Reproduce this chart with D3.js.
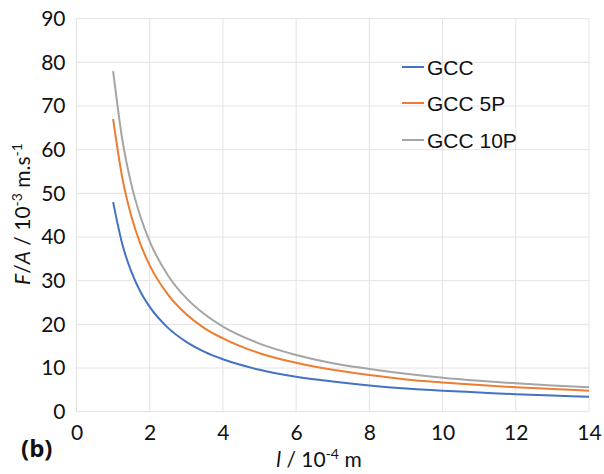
<!DOCTYPE html>
<html><head><meta charset="utf-8">
<script src="https://cdn.jsdelivr.net/npm/d3@7"></script>
<style>body{margin:0;background:#fff;} svg{display:block;}</style>
</head><body>
<script>
const xValues = [1, 1.25, 1.5, 1.75, 2, 2.5, 3, 3.5, 4, 5, 6, 7, 8, 9, 10, 11, 12, 13, 14];
const gcc     = [48, 38.4, 32, 27.4, 24, 19.2, 16, 13.7, 12, 9.6, 8, 6.9, 6, 5.3, 4.8, 4.4, 4.0, 3.7, 3.4];
const gcc5p   = [67, 53.6, 44.7, 38.3, 33.5, 26.8, 22.3, 19.1, 16.8, 13.4, 11.2, 9.6, 8.4, 7.4, 6.7, 6.1, 5.6, 5.2, 4.8];
const gcc10p  = [78, 62.4, 52, 44.6, 39, 31.2, 26, 22.3, 19.5, 15.6, 13, 11.1, 9.8, 8.7, 7.8, 7.1, 6.5, 6.0, 5.6];
const seriesNames = ["GCC", "GCC 5P", "GCC 10P"];
const xTicks = [0, 2, 4, 6, 8, 10, 12, 14];
const yTicks = [0, 10, 20, 30, 40, 50, 60, 70, 80, 90];

const colors = ["#4472C4", "#ED7D31", "#A5A5A5"];
const W = 604, H = 474;
const svg = d3.select("body").append("svg").attr("width", W).attr("height", H);

const x = d3.scaleLinear().domain([0, 14]).range([76.5, 589]);
const y = d3.scaleLinear().domain([0, 90]).range([411.7, 18.7]);

// gridlines
const g = svg.append("g");
g.selectAll("line.vx").data(xTicks).join("line")
  .attr("x1", d => x(d)).attr("x2", d => x(d))
  .attr("y1", y(0)).attr("y2", y(90))
  .attr("stroke", "#e3e3e3").attr("stroke-width", 1);
g.selectAll("line.hy").data(yTicks).join("line")
  .attr("x1", x(0)).attr("x2", x(14))
  .attr("y1", d => y(d)).attr("y2", d => y(d))
  .attr("stroke", "#e3e3e3").attr("stroke-width", 1);

// axes tick labels via d3 axes
const tickFont = "Lato, 'Open Sans', sans-serif";
const yAxis = svg.append("g").attr("transform", `translate(${x(0)},0)`)
  .call(d3.axisLeft(y).tickValues(yTicks).tickSize(0).tickPadding(11));
yAxis.select(".domain").remove();
yAxis.selectAll("text").attr("font-family", tickFont).attr("font-size", 21).attr("fill", "#111");

const xAxis = svg.append("g").attr("transform", `translate(0,${y(0)})`)
  .call(d3.axisBottom(x).tickValues(xTicks).tickSize(0).tickPadding(13));
xAxis.select(".domain").remove();
xAxis.selectAll("text").attr("font-family", tickFont).attr("font-size", 21).attr("fill", "#111");

// lines
const allSeries = [gcc, gcc5p, gcc10p];
const line = d3.line().x((d, i) => x(xValues[i])).y(d => y(d)).curve(d3.curveMonotoneX);
svg.selectAll("path.series").data(allSeries).join("path")
  .attr("d", d => line(d))
  .attr("fill", "none")
  .attr("stroke", (d, i) => colors[i])
  .attr("stroke-width", 2);

// legend
const legY = [67, 103, 140];
const leg = svg.append("g");
seriesNames.forEach((n, i) => {
  leg.append("line").attr("x1", 402).attr("x2", 424).attr("y1", legY[i]).attr("y2", legY[i])
    .attr("stroke", colors[i]).attr("stroke-width", 2);
  leg.append("text").attr("x", 427).attr("y", legY[i]).attr("dy", "0.36em")
    .attr("font-family", "'Liberation Sans', Arial, sans-serif").attr("font-size", 21)
    .attr("fill", "#111").text(n);
});

// y-axis title
const yt = svg.append("text")
  .attr("transform", "translate(30,214) rotate(-90)")
  .attr("text-anchor", "middle")
  .attr("font-family", tickFont).attr("font-size", 21).attr("fill", "#111");
yt.append("tspan").attr("font-style", "italic").text("F");
yt.append("tspan").text("/");
yt.append("tspan").attr("font-style", "italic").text("A");
yt.append("tspan").text(" / 10");
yt.append("tspan").attr("font-size", 14).attr("dy", -8).text("-3");
yt.append("tspan").attr("dy", 8).text(" m.s");
yt.append("tspan").attr("font-size", 14).attr("dy", -8).text("-1");

// x-axis title
const xt = svg.append("text")
  .attr("x", 319).attr("y", 467)
  .attr("text-anchor", "middle")
  .attr("font-family", tickFont).attr("font-size", 21).attr("fill", "#111");
xt.append("tspan").attr("font-style", "italic").text("l");
xt.append("tspan").text(" / 10");
xt.append("tspan").attr("font-size", 14).attr("dy", -8).text("-4");
xt.append("tspan").attr("dy", 8).text(" m");

// panel label
svg.append("text").attr("x", 21).attr("y", 457)
  .attr("font-family", "'Open Sans', sans-serif").attr("font-weight", "bold")
  .attr("font-size", 24).attr("fill", "#111").text("(b)");
</script>
</body></html>
